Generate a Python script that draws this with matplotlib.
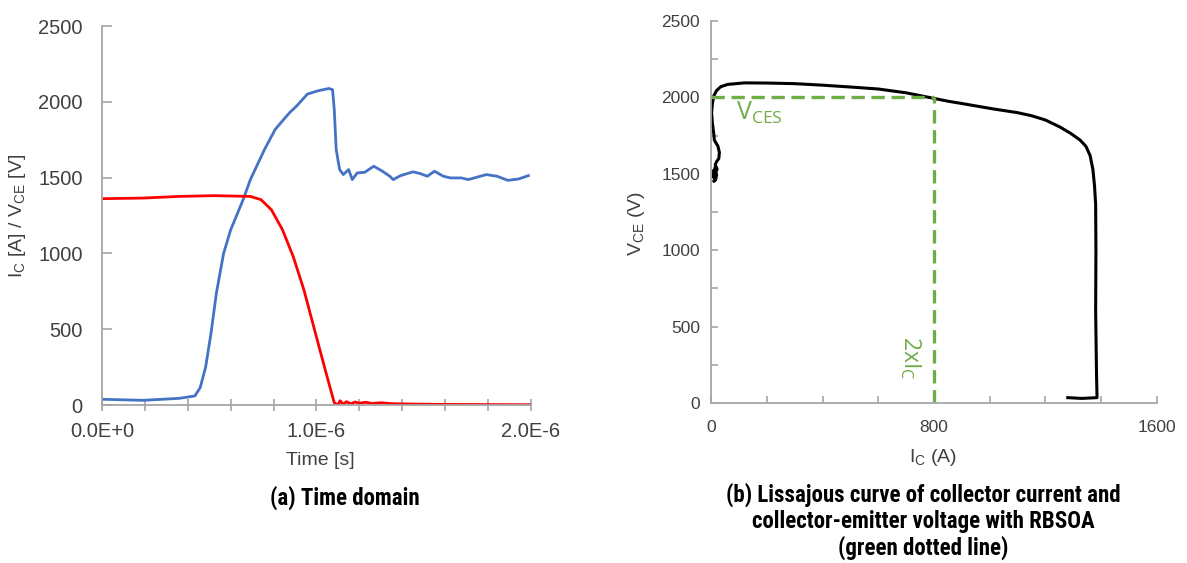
import numpy as np
import matplotlib.pyplot as plt

# (a) time domain
t_vce = [0.0, 0.19, 0.36, 0.433, 0.458, 0.483, 0.508, 0.533, 0.567, 0.60, 0.658, 0.692,
         0.758, 0.808, 0.875, 0.908, 0.958, 1.008, 1.058, 1.075, 1.083, 1.092, 1.108,
         1.125, 1.15, 1.167, 1.19, 1.225, 1.267, 1.308, 1.342, 1.358, 1.392, 1.45,
         1.483, 1.517, 1.55, 1.592, 1.625, 1.675, 1.708, 1.792, 1.842, 1.892, 1.942, 1.988]
vce = [38, 31, 44, 60, 115, 248, 469, 734, 1000, 1155, 1354, 1487,
       1686, 1819, 1929, 1973, 2051, 2073, 2088, 2080, 1951, 1686, 1553,
       1520, 1553, 1487, 1531, 1535, 1575, 1542, 1509, 1487, 1513, 1538,
       1527, 1509, 1542, 1509, 1498, 1498, 1487, 1520, 1509, 1482, 1491, 1513]

t_ic = [0.0, 0.19, 0.36, 0.525, 0.692, 0.742, 0.79, 0.842, 0.892, 0.942, 0.992, 1.042,
        1.083, 1.1, 1.11, 1.125, 1.14, 1.16, 1.18, 1.2, 1.23, 1.26, 1.3, 1.35, 1.45,
        1.6, 1.8, 2.0]
ic = [1361, 1365, 1376, 1381, 1376, 1354, 1288, 1155, 978, 757, 491, 226,
      15, 0, 28, 5, 22, 8, 20, 12, 18, 10, 15, 9, 6, 4, 3, 2]

# (b) Lissajous curve, I_C vs V_CE
lis_i = [1280, 1330, 1385, 1383, 1380, 1381, 1380, 1376, 1370, 1360, 1345, 1324, 1290,
         1252, 1200, 1150, 1100, 1011, 900, 850, 796, 700, 600, 500, 400, 300, 200, 120, 60,
         35, 20, 10, 5, 2, 5, 10, 12, 25, 30, 28, 20, 15, 22, 12, 18, 10, 20, 14, 8, 16, 10]
lis_v = [35, 30, 35, 200, 600, 1000, 1300, 1420, 1530, 1620, 1680, 1721, 1765,
         1806, 1852, 1880, 1900, 1925, 1960, 1975, 1995, 2030, 2055, 2068, 2080, 2090, 2094,
         2095, 2085, 2070, 2045, 2010, 1960, 1900, 1830, 1760, 1720, 1680, 1640, 1600, 1580,
         1560, 1530, 1500, 1470, 1450, 1490, 1540, 1480, 1460, 1520]

vces = 2000
ic_lim = 800

gray = '#404040'
spine_c = '#a6a6a6'
green = '#70ad47'

fig = plt.figure(figsize=(11.87, 5.63), dpi=100)
plt.rcParams['font.family'] = ['Liberation Sans', 'DejaVu Sans']

# ---- left panel
ax1 = fig.add_axes([0.0859, 0.2806, 0.3614, 0.6732])
ax1.plot(np.array(t_vce) * 1e-6, vce, color='#4472c4', lw=2)
ax1.plot(np.array(t_ic) * 1e-6, ic, color='#ff0000', lw=2)
ax1.set_xlim(0, 2e-6)
ax1.set_ylim(0, 2500)
xt = np.arange(0, 11) * 0.2e-6
xl = [''] * 11
xl[0], xl[5], xl[10] = '0.0E+0', '1.0E-6', '2.0E-6'
ax1.set_xticks(xt, xl)
ax1.set_yticks(np.arange(0, 2501, 500))
ax1.tick_params(axis='x', direction='inout', length=9, width=1.2, color=spine_c,
                labelsize=14.5, labelcolor=gray, pad=8)
ax1.tick_params(axis='y', direction='in', length=7, width=1.2, color=spine_c,
                labelsize=14.5, labelcolor=gray, pad=14)
ax1.set_xlabel('Time [s]', fontsize=14, color=gray)
ax1.xaxis.set_label_coords(0.508, -0.124)
ax1.set_ylabel(r'I$_\mathregular{C}$ [A] / V$_\mathregular{CE}$ [V]', fontsize=14, color=gray)
ax1.yaxis.set_label_coords(-0.172, 0.5)

# ---- right panel
ax2 = fig.add_axes([0.599, 0.2842, 0.3757, 0.6785])
ax2.plot(lis_i, lis_v, color='black', lw=2.2)
ax2.plot([0, ic_lim], [vces, vces], color=green, lw=2.4, dashes=(4, 2))
ax2.plot([ic_lim, ic_lim], [0, vces], color=green, lw=2.4, dashes=(4, 2))
ax2.text(90, 1900, r'V$_\mathregular{CES}$', color=green, fontsize=18,
         family=['Open Sans', 'DejaVu Sans'], va='center', ha='left')
ax2.text(714, 295, r'2xI$_\mathregular{C}$', color=green, fontsize=16.5, rotation=270,
         family=['Open Sans', 'DejaVu Sans'], va='center', ha='center')
ax2.set_xlim(0, 1600)
ax2.set_ylim(0, 2500)
x2t = np.arange(0, 1601, 200)
x2l = [str(v) if v % 800 == 0 else '' for v in x2t]
ax2.set_xticks(x2t, x2l)
y2t = np.arange(0, 2501, 250)
y2l = [str(v) if v % 500 == 0 else '' for v in y2t]
ax2.set_yticks(y2t, y2l)
ax2.tick_params(axis='x', direction='in', length=5, width=1.2, color=spine_c,
                labelsize=12.5, labelcolor=gray, pad=12)
ax2.tick_params(axis='y', direction='in', length=5, width=1.2, color=spine_c,
                labelsize=12.5, labelcolor=gray, pad=8)
ax2.set_xlabel(r'I$_\mathregular{C}$ (A)', fontsize=14, color=gray)
ax2.xaxis.set_label_coords(0.498, -0.115)
ax2.set_ylabel(r'V$_\mathregular{CE}$ (V)', fontsize=14, color=gray)
ax2.yaxis.set_label_coords(-0.1435, 0.47)

for ax in (ax1, ax2):
    for s in ('top', 'right'):
        ax.spines[s].set_visible(False)
    for s in ('left', 'bottom'):
        ax.spines[s].set_color(spine_c)
        ax.spines[s].set_linewidth(1.3)

cap_font = ['Liberation Sans Narrow', 'Roboto Condensed', 'DejaVu Sans']
fig.text(0.2907, 0.1155, '(a) Time domain', ha='center', va='center', fontsize=16.5,
         fontweight='bold', family=cap_font)
fig.text(0.7776, 0.0735, '(b) Lissajous curve of collector current and\n'
         'collector-emitter voltage with RBSOA\n(green dotted line)',
         ha='center', va='center', fontsize=16.5, fontweight='bold', family=cap_font,
         linespacing=1.15)

fig.savefig('out.png', dpi=100)
